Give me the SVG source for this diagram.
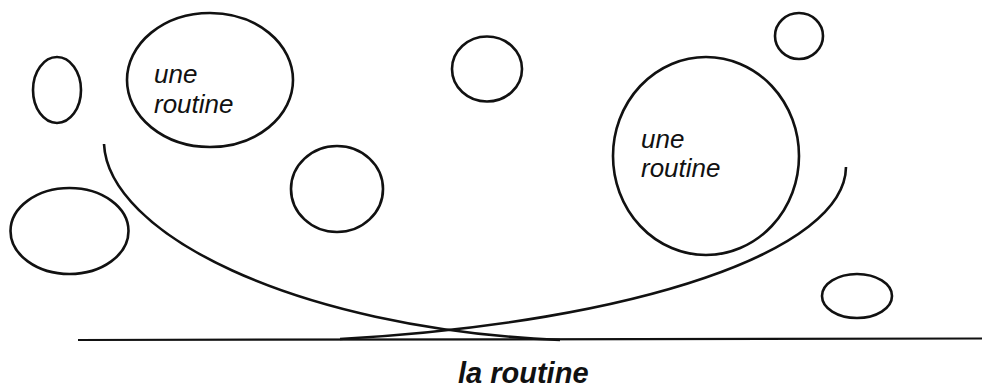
<svg xmlns="http://www.w3.org/2000/svg" width="993" height="391" viewBox="0 0 993 391">
<style>
.n{fill:none;stroke:#111;stroke-width:2.6}
.c{fill:none;stroke:#111;stroke-width:2.6}
.b{fill:none;stroke:#111;stroke-width:2.2}
.t{font-family:"Liberation Sans",Arial,sans-serif;font-style:italic;font-size:26px;fill:#111}
.lbl{font-family:"Liberation Sans",Arial,sans-serif;font-style:italic;font-weight:bold;font-size:29px;fill:#111}
</style>
<rect width="993" height="391" fill="#fff"/>
<g id="e1"><ellipse class="n" cx="57" cy="90" rx="24" ry="33"/></g>
<g id="r1"><ellipse class="n" cx="210" cy="80" rx="83" ry="67"/>
<text class="t" x="154" y="83">une</text><text class="t" x="154" y="113">routine</text></g>
<g id="e3"><ellipse class="n" cx="487" cy="69" rx="35" ry="32.5"/></g>
<g id="e4"><ellipse class="n" cx="799" cy="36" rx="24" ry="23"/></g>
<g id="r2"><ellipse class="n" cx="706" cy="156" rx="93" ry="99"/>
<text class="t" x="641" y="148">une</text><text class="t" x="641" y="177">routine</text></g>
<g id="e6"><ellipse class="n" cx="337" cy="189" rx="46" ry="43"/></g>
<g id="e7"><ellipse class="n" cx="69.5" cy="231" rx="59" ry="43"/></g>
<g id="e8"><ellipse class="n" cx="857" cy="296" rx="35" ry="22"/></g>
<g id="connectors">
<path class="c" d="M104 144 C108 232 290 328 560 340"/>
<path class="c" d="M846 167 C845 250 640 322 340 339"/>
<line class="b" x1="78" y1="340" x2="982" y2="338.5"/>
</g>
<text class="lbl" x="458" y="383">la routine</text>
</svg>
